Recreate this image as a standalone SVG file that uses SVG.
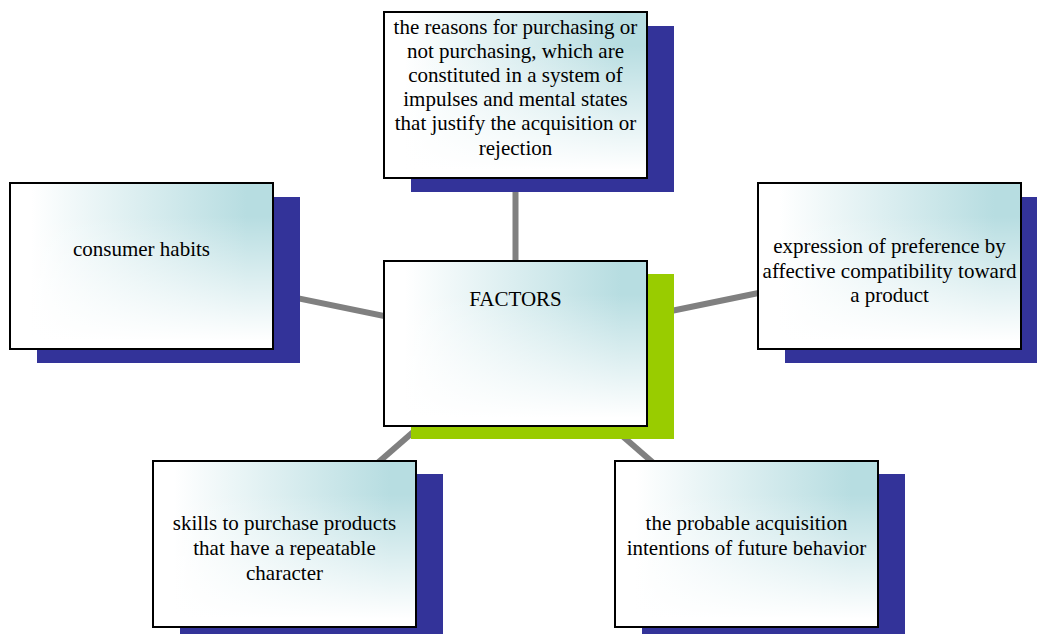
<svg xmlns="http://www.w3.org/2000/svg" width="1037" height="634" viewBox="0 0 1037 634">
<defs>
<linearGradient id="gh" x1="0" y1="0" x2="1" y2="0">
<stop offset="0.08" stop-color="#ffffff"/>
<stop offset="0.9" stop-color="#b7dde1"/>
</linearGradient>
<linearGradient id="gv" x1="0" y1="0" x2="0" y2="1">
<stop offset="0.2" stop-color="#ffffff" stop-opacity="0"/>
<stop offset="0.95" stop-color="#ffffff" stop-opacity="1"/>
</linearGradient>
</defs>
<style>
.box{fill:url(#gh)}
.ov{fill:url(#gv);stroke:#000;stroke-width:2}
.sh{fill:#333399}
.gr{fill:#99cc00}
.conn line{stroke:#808080;stroke-width:6}
text{font-family:"Liberation Serif","Times New Roman",serif;font-size:21px;fill:#000;text-anchor:middle}
</style>
<rect width="1037" height="634" fill="#fff"/>
<g id="connectors" class="conn">
<line x1="515.5" y1="343" x2="515.5" y2="95"/>
<line x1="515.5" y1="343" x2="141" y2="266"/>
<line x1="515.5" y1="343" x2="889.5" y2="266"/>
<line x1="515.5" y1="343" x2="284.5" y2="544"/>
<line x1="515.5" y1="343" x2="746.5" y2="544"/>
</g>
<g id="top">
<rect class="sh" x="411" y="26" width="263" height="166"/>
<rect class="box" x="384" y="12" width="263" height="166"/>
<rect class="ov" x="384" y="12" width="263" height="166"/>
<text x="515.5" y="34">the reasons for purchasing or</text>
<text x="515.5" y="58">not purchasing, which are</text>
<text x="515.5" y="82">constituted in a system of</text>
<text x="515.5" y="106">impulses and mental states</text>
<text x="515.5" y="130">that justify the acquisition or</text>
<text x="515.5" y="155">rejection</text>
</g>
<g id="left">
<rect class="sh" x="37" y="197" width="263" height="166"/>
<rect class="box" x="10" y="183" width="263" height="166"/>
<rect class="ov" x="10" y="183" width="263" height="166"/>
<text x="141.5" y="256">consumer habits</text>
</g>
<g id="center">
<rect class="gr" x="411" y="274" width="263" height="165"/>
<rect class="box" x="384" y="261" width="263" height="165"/>
<rect class="ov" x="384" y="261" width="263" height="165"/>
<text x="515.5" y="306">FACTORS</text>
</g>
<g id="right">
<rect class="sh" x="785" y="197" width="252" height="166"/>
<rect class="box" x="758" y="183" width="263" height="166"/>
<rect class="ov" x="758" y="183" width="263" height="166"/>
<text x="889.5" y="253">expression of preference by</text>
<text x="889.5" y="278">affective compatibility toward</text>
<text x="889.5" y="302">a product</text>
</g>
<g id="bottom-left">
<rect class="sh" x="180" y="474" width="263" height="160"/>
<rect class="box" x="153" y="461" width="263" height="166"/>
<rect class="ov" x="153" y="461" width="263" height="166"/>
<text x="284.5" y="530">skills to purchase products</text>
<text x="284.5" y="555">that have a repeatable</text>
<text x="284.5" y="580">character</text>
</g>
<g id="bottom-right">
<rect class="sh" x="642" y="474" width="263" height="160"/>
<rect class="box" x="615" y="461" width="263" height="166"/>
<rect class="ov" x="615" y="461" width="263" height="166"/>
<text x="746.5" y="530">the probable acquisition</text>
<text x="746.5" y="555">intentions of future behavior</text>
</g>
</svg>
